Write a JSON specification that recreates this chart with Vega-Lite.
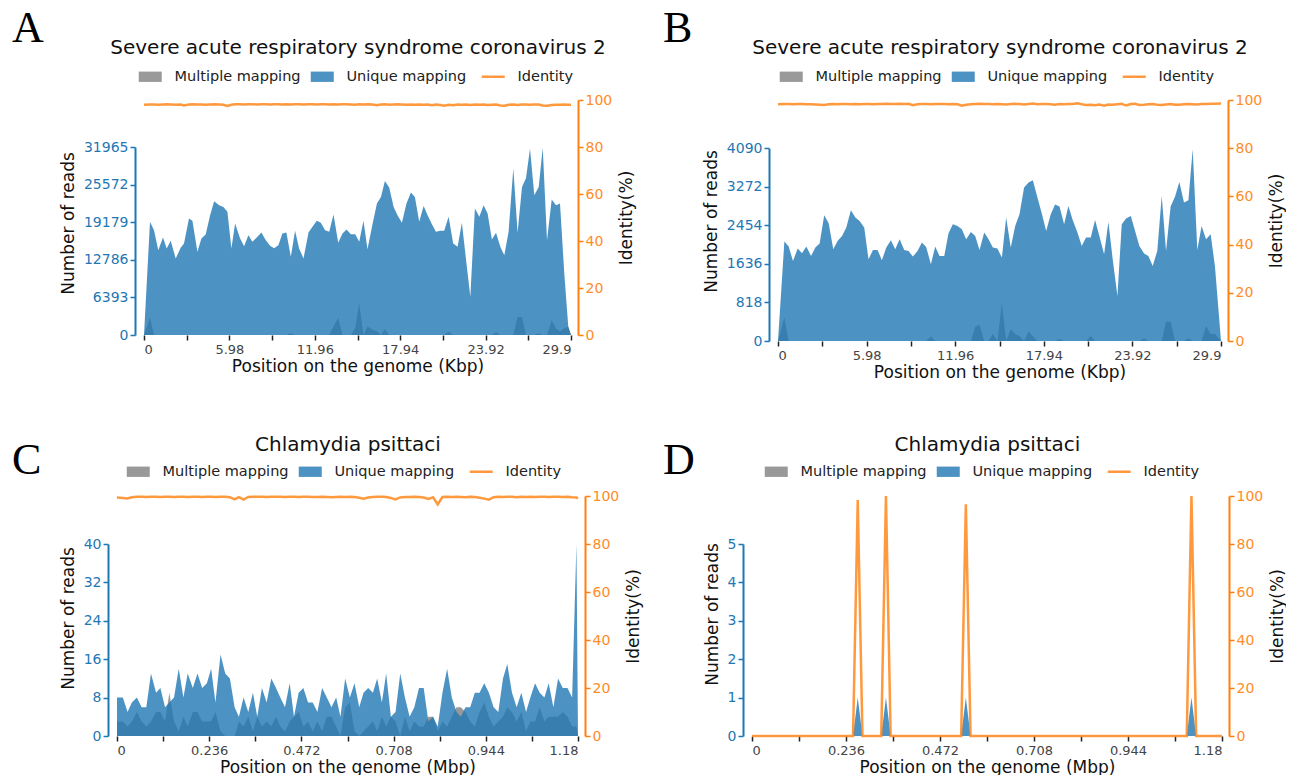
{
"$schema": "https://vega.github.io/schema/vega-lite/v6.json",
"padding": {"left": 12, "top": 7, "right": 0, "bottom": 0},
"config": {"view": {"stroke": null}, "font": "DejaVu Sans",
  "title": {"font": "Liberation Serif", "fontSize": 44, "fontWeight": "normal", "color": "#000", "anchor": "start", "frame": "group", "baseline": "alphabetic", "offset": 0},
  "axis": {"grid": false, "labelFont": "DejaVu Sans", "titleFont": "DejaVu Sans", "titleFontWeight": "normal", "titleColor": "#111"},
  "axisBottom": {"domain": false, "labelFontSize": 13, "labelColor": "#444", "tickColor": "#222", "tickSize": 5, "tickWidth": 1.5, "titleFontSize": 17, "titlePadding": 2, "labelPadding": 3},
  "axisTop": {"labels": false, "ticks": false, "domain": false, "titleFontSize": 20, "titleY": -45, "titleBaseline": "alphabetic"},
  "axisLeft": {"offset": 9, "domainColor": "#1f77b4", "domainWidth": 2, "tickColor": "#1f77b4", "tickWidth": 1.5, "tickSize": 5, "labelColor": "#1f77b4", "labelFontSize": 14, "titleFontSize": 17, "titlePadding": 6, "format": "d"},
  "axisRight": {"offset": 7, "domainColor": "#ff7f0e", "domainWidth": 2, "tickColor": "#ff7f0e", "tickWidth": 1.5, "tickSize": 5, "labelColor": "#ff8c26", "labelFontSize": 14, "titleFontSize": 17, "titleAngle": 270, "titlePadding": 24},
  "legend": {"orient": "none", "direction": "horizontal", "gridAlign": "none", "labelFontSize": 14.5, "labelColor": "#222", "symbolSize": 529, "labelOffset": 17, "columnPadding": 9, "symbolOpacity": 0.8}
},
"datasets": {
"pA": [
{"position":0,"unique":0,"multiple":0,"identity":98.0},
{"position":0.42,"unique":19237,"multiple":3000,"identity":98.1},
{"position":0.70,"unique":17823,"multiple":0,"identity":98.1},
{"position":1.00,"unique":14428,"multiple":0,"identity":98.0},
{"position":1.33,"unique":16578,"multiple":0,"identity":98.1},
{"position":1.59,"unique":14711,"multiple":0,"identity":98.2},
{"position":1.87,"unique":16012,"multiple":0,"identity":98.1},
{"position":2.22,"unique":13013,"multiple":0,"identity":98.0},
{"position":2.57,"unique":14824,"multiple":0,"identity":98.1},
{"position":2.80,"unique":15560,"multiple":0,"identity":97.7},
{"position":3.15,"unique":19803,"multiple":0,"identity":98.1},
{"position":3.39,"unique":19407,"multiple":0,"identity":98.2},
{"position":3.74,"unique":14145,"multiple":0,"identity":98.1},
{"position":4.02,"unique":16408,"multiple":0,"identity":98.1},
{"position":4.32,"unique":17087,"multiple":0,"identity":98.0},
{"position":4.63,"unique":20369,"multiple":0,"identity":98.1},
{"position":4.91,"unique":22745,"multiple":0,"identity":98.2},
{"position":5.26,"unique":22066,"multiple":0,"identity":98.1},
{"position":5.56,"unique":21783,"multiple":0,"identity":98.0},
{"position":5.84,"unique":20935,"multiple":0,"identity":97.5},
{"position":6.12,"unique":14711,"multiple":0,"identity":98.0},
{"position":6.38,"unique":18954,"multiple":0,"identity":98.2},
{"position":6.73,"unique":16408,"multiple":0,"identity":98.2},
{"position":7.01,"unique":15107,"multiple":0,"identity":98.1},
{"position":7.31,"unique":16974,"multiple":0,"identity":98.2},
{"position":7.59,"unique":15842,"multiple":0,"identity":98.2},
{"position":7.94,"unique":16691,"multiple":0,"identity":98.1},
{"position":8.22,"unique":17427,"multiple":0,"identity":98.2},
{"position":8.53,"unique":16125,"multiple":0,"identity":98.2},
{"position":8.83,"unique":15163,"multiple":0,"identity":98.1},
{"position":9.11,"unique":14767,"multiple":0,"identity":98.2},
{"position":9.41,"unique":15277,"multiple":0,"identity":98.2},
{"position":9.69,"unique":17257,"multiple":0,"identity":98.1},
{"position":9.97,"unique":17427,"multiple":0,"identity":98.2},
{"position":10.28,"unique":13296,"multiple":300,"identity":98.1},
{"position":10.58,"unique":17710,"multiple":0,"identity":98.2},
{"position":10.86,"unique":14711,"multiple":0,"identity":98.2},
{"position":11.17,"unique":13013,"multiple":0,"identity":98.1},
{"position":11.52,"unique":17427,"multiple":0,"identity":98.2},
{"position":11.80,"unique":18389,"multiple":0,"identity":98.2},
{"position":12.10,"unique":19407,"multiple":0,"identity":98.1},
{"position":12.38,"unique":19067,"multiple":0,"identity":98.2},
{"position":12.68,"unique":17823,"multiple":0,"identity":98.2},
{"position":12.97,"unique":17540,"multiple":0,"identity":98.1},
{"position":13.27,"unique":20482,"multiple":1500,"identity":98.2},
{"position":13.60,"unique":15673,"multiple":2900,"identity":98.1},
{"position":13.90,"unique":17257,"multiple":0,"identity":98.2},
{"position":14.18,"unique":17936,"multiple":0,"identity":98.2},
{"position":14.48,"unique":17144,"multiple":0,"identity":98.1},
{"position":14.79,"unique":17144,"multiple":1200,"identity":98.0},
{"position":15.07,"unique":15842,"multiple":5400,"identity":98.2},
{"position":15.37,"unique":19407,"multiple":0,"identity":98.1},
{"position":15.65,"unique":14598,"multiple":1500,"identity":98.2},
{"position":16.00,"unique":18841,"multiple":900,"identity":98.1},
{"position":16.31,"unique":22349,"multiple":700,"identity":97.8},
{"position":16.59,"unique":23481,"multiple":0,"identity":98.1},
{"position":16.87,"unique":26197,"multiple":1000,"identity":98.2},
{"position":17.17,"unique":25065,"multiple":0,"identity":98.0},
{"position":17.48,"unique":21783,"multiple":0,"identity":98.1},
{"position":17.75,"unique":20369,"multiple":0,"identity":98.2},
{"position":18.06,"unique":19067,"multiple":0,"identity":98.1},
{"position":18.38,"unique":22349,"multiple":0,"identity":98.0},
{"position":18.69,"unique":24216,"multiple":0,"identity":98.1},
{"position":18.97,"unique":23481,"multiple":0,"identity":98.0},
{"position":19.27,"unique":19237,"multiple":0,"identity":98.1},
{"position":19.58,"unique":21953,"multiple":0,"identity":98.0},
{"position":19.86,"unique":20369,"multiple":0,"identity":98.1},
{"position":20.16,"unique":18841,"multiple":0,"identity":97.8},
{"position":20.44,"unique":17540,"multiple":0,"identity":98.1},
{"position":20.75,"unique":17710,"multiple":0,"identity":97.9},
{"position":21.02,"unique":17710,"multiple":0,"identity":97.6},
{"position":21.33,"unique":20086,"multiple":600,"identity":98.0},
{"position":21.65,"unique":15560,"multiple":0,"identity":97.8},
{"position":21.96,"unique":14994,"multiple":0,"identity":98.1},
{"position":22.26,"unique":19067,"multiple":0,"identity":98.0},
{"position":22.54,"unique":13013,"multiple":0,"identity":98.1},
{"position":22.85,"unique":6507,"multiple":0,"identity":97.9},
{"position":23.17,"unique":21500,"multiple":0,"identity":98.1},
{"position":23.48,"unique":20086,"multiple":0,"identity":98.0},
{"position":23.78,"unique":22066,"multiple":0,"identity":98.1},
{"position":24.06,"unique":20652,"multiple":0,"identity":97.9},
{"position":24.36,"unique":16238,"multiple":0,"identity":98.0},
{"position":24.65,"unique":17370,"multiple":500,"identity":98.1},
{"position":24.95,"unique":14994,"multiple":0,"identity":97.7},
{"position":25.23,"unique":13579,"multiple":0,"identity":97.6},
{"position":25.53,"unique":17540,"multiple":0,"identity":98.0},
{"position":25.86,"unique":28290,"multiple":0,"identity":98.1},
{"position":26.16,"unique":17370,"multiple":3100,"identity":97.9},
{"position":26.47,"unique":25178,"multiple":3000,"identity":98.1},
{"position":26.75,"unique":26706,"multiple":0,"identity":98.1},
{"position":27.03,"unique":31685,"multiple":0,"identity":98.0},
{"position":27.33,"unique":23764,"multiple":0,"identity":98.1},
{"position":27.64,"unique":25178,"multiple":300,"identity":98.1},
{"position":27.92,"unique":31855,"multiple":0,"identity":97.7},
{"position":28.22,"unique":16125,"multiple":0,"identity":97.6},
{"position":28.55,"unique":23028,"multiple":2500,"identity":97.9},
{"position":28.85,"unique":22066,"multiple":1100,"identity":98.0},
{"position":29.13,"unique":22349,"multiple":600,"identity":98.0},
{"position":29.43,"unique":10467,"multiple":1200,"identity":98.1},
{"position":29.71,"unique":1415,"multiple":1400,"identity":98.0},
{"position":29.90,"unique":0,"multiple":0,"identity":98.0}
],
"pB": [
{"position":0,"unique":0,"multiple":0,"identity":98.2},
{"position":0.43,"unique":2109,"multiple":500,"identity":98.3},
{"position":0.72,"unique":2003,"multiple":0,"identity":98.3},
{"position":1.01,"unique":1698,"multiple":0,"identity":98.2},
{"position":1.33,"unique":1960,"multiple":0,"identity":98.3},
{"position":1.62,"unique":1861,"multiple":0,"identity":98.3},
{"position":1.91,"unique":2003,"multiple":0,"identity":98.2},
{"position":2.23,"unique":1804,"multiple":0,"identity":98.2},
{"position":2.52,"unique":1981,"multiple":0,"identity":98.1},
{"position":2.81,"unique":2066,"multiple":0,"identity":98.0},
{"position":3.12,"unique":2668,"multiple":0,"identity":97.9},
{"position":3.42,"unique":2498,"multiple":0,"identity":98.2},
{"position":3.73,"unique":1946,"multiple":0,"identity":98.3},
{"position":4.02,"unique":2123,"multiple":0,"identity":98.2},
{"position":4.32,"unique":2229,"multiple":0,"identity":98.3},
{"position":4.61,"unique":2406,"multiple":0,"identity":98.3},
{"position":4.92,"unique":2774,"multiple":0,"identity":98.2},
{"position":5.22,"unique":2618,"multiple":0,"identity":98.3},
{"position":5.51,"unique":2547,"multiple":0,"identity":98.2},
{"position":5.82,"unique":2406,"multiple":0,"identity":98.3},
{"position":6.11,"unique":1734,"multiple":0,"identity":98.3},
{"position":6.41,"unique":1932,"multiple":0,"identity":98.2},
{"position":6.72,"unique":1932,"multiple":0,"identity":98.3},
{"position":7.01,"unique":1712,"multiple":0,"identity":98.3},
{"position":7.31,"unique":1981,"multiple":0,"identity":98.4},
{"position":7.62,"unique":2137,"multiple":0,"identity":98.3},
{"position":7.91,"unique":1946,"multiple":0,"identity":98.3},
{"position":8.21,"unique":2158,"multiple":0,"identity":98.4},
{"position":8.52,"unique":1932,"multiple":0,"identity":98.3},
{"position":8.81,"unique":1911,"multiple":0,"identity":98.4},
{"position":9.10,"unique":1790,"multiple":0,"identity":97.8},
{"position":9.42,"unique":1911,"multiple":0,"identity":98.2},
{"position":9.71,"unique":2087,"multiple":0,"identity":98.3},
{"position":10.00,"unique":1995,"multiple":0,"identity":98.3},
{"position":10.32,"unique":1627,"multiple":100,"identity":98.2},
{"position":10.61,"unique":2003,"multiple":0,"identity":98.3},
{"position":10.90,"unique":1804,"multiple":0,"identity":98.3},
{"position":11.22,"unique":1804,"multiple":0,"identity":98.3},
{"position":11.51,"unique":2286,"multiple":0,"identity":98.2},
{"position":11.80,"unique":2477,"multiple":0,"identity":98.3},
{"position":12.12,"unique":2441,"multiple":0,"identity":98.2},
{"position":12.41,"unique":2370,"multiple":0,"identity":97.6},
{"position":12.70,"unique":2158,"multiple":0,"identity":98.0},
{"position":13.02,"unique":2314,"multiple":0,"identity":98.2},
{"position":13.31,"unique":2229,"multiple":300,"identity":98.3},
{"position":13.60,"unique":1932,"multiple":350,"identity":98.4},
{"position":13.92,"unique":2300,"multiple":0,"identity":98.3},
{"position":14.21,"unique":2158,"multiple":0,"identity":98.3},
{"position":14.50,"unique":1981,"multiple":150,"identity":98.2},
{"position":14.81,"unique":1960,"multiple":0,"identity":98.3},
{"position":15.11,"unique":1769,"multiple":800,"identity":98.2},
{"position":15.40,"unique":2618,"multiple":0,"identity":98.1},
{"position":15.71,"unique":1981,"multiple":250,"identity":98.3},
{"position":16.01,"unique":2441,"multiple":150,"identity":98.4},
{"position":16.30,"unique":2689,"multiple":100,"identity":98.3},
{"position":16.61,"unique":3255,"multiple":0,"identity":98.1},
{"position":16.91,"unique":3361,"multiple":200,"identity":98.3},
{"position":17.20,"unique":3411,"multiple":100,"identity":98.5},
{"position":17.51,"unique":3043,"multiple":0,"identity":98.2},
{"position":17.80,"unique":2710,"multiple":0,"identity":98.3},
{"position":18.10,"unique":2335,"multiple":0,"identity":98.3},
{"position":18.41,"unique":2689,"multiple":0,"identity":98.2},
{"position":18.70,"unique":2894,"multiple":0,"identity":98.0},
{"position":19.00,"unique":2852,"multiple":40,"identity":98.3},
{"position":19.31,"unique":2477,"multiple":0,"identity":98.2},
{"position":19.60,"unique":2866,"multiple":0,"identity":98.3},
{"position":19.89,"unique":2569,"multiple":0,"identity":98.3},
{"position":20.21,"unique":2300,"multiple":0,"identity":98.6},
{"position":20.50,"unique":2017,"multiple":0,"identity":98.2},
{"position":20.79,"unique":2194,"multiple":0,"identity":97.9},
{"position":21.11,"unique":2194,"multiple":110,"identity":98.0},
{"position":21.40,"unique":2569,"multiple":0,"identity":97.8},
{"position":21.69,"unique":2229,"multiple":0,"identity":98.1},
{"position":22.01,"unique":1840,"multiple":0,"identity":97.6},
{"position":22.30,"unique":2526,"multiple":0,"identity":98.1},
{"position":22.59,"unique":1734,"multiple":0,"identity":98.0},
{"position":22.91,"unique":955,"multiple":0,"identity":98.2},
{"position":23.20,"unique":2477,"multiple":0,"identity":98.4},
{"position":23.49,"unique":2597,"multiple":0,"identity":97.7},
{"position":23.81,"unique":2654,"multiple":0,"identity":98.3},
{"position":24.10,"unique":2335,"multiple":0,"identity":98.4},
{"position":24.39,"unique":2017,"multiple":0,"identity":97.9},
{"position":24.71,"unique":1854,"multiple":60,"identity":98.0},
{"position":25.00,"unique":1804,"multiple":0,"identity":98.2},
{"position":25.29,"unique":1592,"multiple":0,"identity":98.3},
{"position":25.60,"unique":1911,"multiple":0,"identity":98.0},
{"position":25.90,"unique":3078,"multiple":0,"identity":97.9},
{"position":26.19,"unique":1911,"multiple":410,"identity":98.1},
{"position":26.50,"unique":2852,"multiple":410,"identity":98.3},
{"position":26.80,"unique":3064,"multiple":0,"identity":98.0},
{"position":27.09,"unique":3375,"multiple":0,"identity":98.0},
{"position":27.40,"unique":2937,"multiple":0,"identity":98.2},
{"position":27.70,"unique":2986,"multiple":60,"identity":98.3},
{"position":27.99,"unique":4069,"multiple":0,"identity":98.2},
{"position":28.30,"unique":1932,"multiple":0,"identity":98.1},
{"position":28.59,"unique":2441,"multiple":0,"identity":98.3},
{"position":28.89,"unique":2158,"multiple":320,"identity":98.3},
{"position":29.20,"unique":2264,"multiple":150,"identity":98.4},
{"position":29.49,"unique":1592,"multiple":150,"identity":98.4},
{"position":29.90,"unique":0,"multiple":0,"identity":98.5}
],
"pC": [
{"position":0.000,"unique":8,"multiple":3,"identity":99.4},
{"position":0.015,"unique":8,"multiple":3,"identity":99.2},
{"position":0.027,"unique":5,"multiple":2,"identity":99.0},
{"position":0.038,"unique":7,"multiple":3,"identity":99.5},
{"position":0.051,"unique":8,"multiple":5,"identity":99.7},
{"position":0.063,"unique":6,"multiple":3,"identity":99.7},
{"position":0.075,"unique":6,"multiple":2,"identity":99.6},
{"position":0.087,"unique":13,"multiple":3,"identity":99.7},
{"position":0.100,"unique":9,"multiple":5,"identity":99.7},
{"position":0.111,"unique":10,"multiple":5,"identity":99.6},
{"position":0.123,"unique":6,"multiple":3,"identity":99.7},
{"position":0.134,"unique":7,"multiple":9,"identity":99.7},
{"position":0.146,"unique":8,"multiple":3,"identity":99.6},
{"position":0.158,"unique":14,"multiple":1,"identity":99.7},
{"position":0.170,"unique":8,"multiple":4,"identity":99.7},
{"position":0.181,"unique":13,"multiple":2,"identity":99.6},
{"position":0.194,"unique":10,"multiple":5,"identity":99.7},
{"position":0.206,"unique":13,"multiple":5,"identity":99.7},
{"position":0.218,"unique":10,"multiple":3,"identity":99.6},
{"position":0.230,"unique":11,"multiple":3,"identity":99.7},
{"position":0.241,"unique":14,"multiple":3,"identity":99.7},
{"position":0.252,"unique":7,"multiple":5,"identity":99.6},
{"position":0.265,"unique":17,"multiple":1,"identity":99.7},
{"position":0.277,"unique":13,"multiple":0,"identity":99.7},
{"position":0.289,"unique":12,"multiple":0,"identity":99.5},
{"position":0.301,"unique":6,"multiple":0,"identity":98.6},
{"position":0.312,"unique":4,"multiple":3,"identity":99.5},
{"position":0.324,"unique":8,"multiple":2,"identity":98.5},
{"position":0.336,"unique":5,"multiple":4,"identity":99.6},
{"position":0.348,"unique":9,"multiple":1,"identity":99.7},
{"position":0.359,"unique":4,"multiple":4,"identity":99.7},
{"position":0.371,"unique":10,"multiple":2,"identity":99.7},
{"position":0.383,"unique":7,"multiple":3,"identity":99.6},
{"position":0.395,"unique":12,"multiple":2,"identity":99.7},
{"position":0.407,"unique":10,"multiple":4,"identity":99.7},
{"position":0.418,"unique":8,"multiple":2,"identity":99.7},
{"position":0.430,"unique":6,"multiple":1,"identity":99.6},
{"position":0.442,"unique":11,"multiple":3,"identity":99.7},
{"position":0.453,"unique":4,"multiple":4,"identity":99.7},
{"position":0.465,"unique":9,"multiple":5,"identity":99.6},
{"position":0.477,"unique":10,"multiple":2,"identity":99.7},
{"position":0.489,"unique":7,"multiple":3,"identity":99.7},
{"position":0.501,"unique":7,"multiple":1,"identity":99.6},
{"position":0.513,"unique":5,"multiple":3,"identity":99.6},
{"position":0.525,"unique":10,"multiple":1,"identity":99.7},
{"position":0.537,"unique":8,"multiple":4,"identity":99.6},
{"position":0.549,"unique":6,"multiple":4,"identity":99.5},
{"position":0.561,"unique":8,"multiple":2,"identity":99.6},
{"position":0.572,"unique":4,"multiple":0,"identity":99.7},
{"position":0.584,"unique":12,"multiple":6,"identity":99.6},
{"position":0.596,"unique":8,"multiple":7,"identity":99.7},
{"position":0.608,"unique":11,"multiple":1,"identity":99.6},
{"position":0.620,"unique":6,"multiple":0,"identity":99.3},
{"position":0.631,"unique":9,"multiple":1,"identity":98.9},
{"position":0.643,"unique":10,"multiple":2,"identity":99.4},
{"position":0.655,"unique":9,"multiple":3,"identity":99.6},
{"position":0.666,"unique":12,"multiple":1,"identity":99.7},
{"position":0.678,"unique":7,"multiple":4,"identity":99.7},
{"position":0.689,"unique":13,"multiple":2,"identity":99.6},
{"position":0.701,"unique":4,"multiple":4,"identity":99.2},
{"position":0.713,"unique":5,"multiple":3,"identity":98.6},
{"position":0.725,"unique":13,"multiple":0,"identity":99.4},
{"position":0.737,"unique":8,"multiple":4,"identity":99.6},
{"position":0.749,"unique":4,"multiple":1,"identity":99.6},
{"position":0.761,"unique":6,"multiple":3,"identity":99.7},
{"position":0.773,"unique":10,"multiple":2,"identity":99.6},
{"position":0.785,"unique":10,"multiple":2,"identity":99.4},
{"position":0.797,"unique":3,"multiple":4,"identity":98.8},
{"position":0.809,"unique":4,"multiple":4,"identity":99.5},
{"position":0.821,"unique":2,"multiple":1,"identity":96.5},
{"position":0.833,"unique":9,"multiple":3,"identity":99.6},
{"position":0.845,"unique":14,"multiple":2,"identity":99.7},
{"position":0.857,"unique":8,"multiple":4,"identity":99.6},
{"position":0.869,"unique":5,"multiple":6,"identity":99.7},
{"position":0.880,"unique":4,"multiple":6,"identity":99.6},
{"position":0.892,"unique":6,"multiple":5,"identity":99.5},
{"position":0.904,"unique":6,"multiple":3,"identity":99.7},
{"position":0.916,"unique":9,"multiple":2,"identity":99.6},
{"position":0.928,"unique":9,"multiple":5,"identity":99.3},
{"position":0.940,"unique":11,"multiple":7,"identity":98.9},
{"position":0.952,"unique":9,"multiple":4,"identity":98.5},
{"position":0.964,"unique":6,"multiple":2,"identity":99.5},
{"position":0.976,"unique":5,"multiple":3,"identity":99.7},
{"position":0.988,"unique":12,"multiple":4,"identity":99.6},
{"position":0.999,"unique":15,"multiple":6,"identity":99.7},
{"position":1.011,"unique":9,"multiple":5,"identity":99.7},
{"position":1.023,"unique":6,"multiple":3,"identity":99.5},
{"position":1.035,"unique":9,"multiple":5,"identity":99.7},
{"position":1.047,"unique":5,"multiple":1,"identity":99.6},
{"position":1.058,"unique":8,"multiple":3,"identity":99.7},
{"position":1.070,"unique":11,"multiple":3,"identity":99.6},
{"position":1.082,"unique":9,"multiple":6,"identity":99.7},
{"position":1.094,"unique":8,"multiple":3,"identity":99.7},
{"position":1.105,"unique":11,"multiple":4,"identity":99.6},
{"position":1.117,"unique":6,"multiple":4,"identity":99.7},
{"position":1.129,"unique":12,"multiple":4,"identity":99.7},
{"position":1.141,"unique":10,"multiple":5,"identity":99.6},
{"position":1.153,"unique":10,"multiple":4,"identity":99.7},
{"position":1.165,"unique":8,"multiple":2,"identity":99.5},
{"position":1.176,"unique":40,"multiple":2,"identity":99.4},
{"position":1.180,"unique":0,"multiple":0,"identity":99.0}
],
"pD": [
{"position":0,"unique":0,"multiple":0,"identity":0},
{"position":0.2537,"unique":0,"multiple":0,"identity":0},
{"position":0.2655,"unique":1,"multiple":0,"identity":98.3},
{"position":0.2773,"unique":0,"multiple":0,"identity":0},
{"position":0.3245,"unique":0,"multiple":0,"identity":0},
{"position":0.3363,"unique":1,"multiple":0,"identity":100},
{"position":0.3481,"unique":0,"multiple":0,"identity":0},
{"position":0.5251,"unique":0,"multiple":0,"identity":0},
{"position":0.5369,"unique":1,"multiple":0,"identity":96.5},
{"position":0.5487,"unique":0,"multiple":0,"identity":0},
{"position":1.0915,"unique":0,"multiple":0,"identity":0},
{"position":1.1033,"unique":1,"multiple":0,"identity":100},
{"position":1.1151,"unique":0,"multiple":0,"identity":0},
{"position":1.18,"unique":0,"multiple":0,"identity":0}
]
},
"resolve": {"scale": {"color": "independent"}, "legend": {"color": "independent"}},
"columns": 2,
"align": {"row": "all", "column": "none"},
"spacing": {"row": 54, "column": 21},
"concat": [
  {"width": 454, "height": 235, "data": {"name": "pA"},
   "title": {"text": "A", "dx": -105, "dy": 18},
   "resolve": {"scale": {"y": "independent"}},
   "layer": [
    {"layer": [
      {"mark": {"type": "area", "opacity": 0.8},
       "encoding": {
         "x": {"field": "position", "type": "quantitative", "scale": {"domain": [0, 29.9], "range": [27, 454], "nice": false, "zero": false}, "axis": {"orient": "bottom", "values": [0, 2.99, 5.98, 8.97, 11.96, 14.95, 17.94, 20.93, 23.92, 26.91, 29.9], "labelExpr": "round(datum.value/2.99) % 2 === 0 ? format(datum.value, '~g') : ''", "title": "Position on the genome (Kbp)"}},
         "y": {"field": "multiple", "type": "quantitative", "scale": {"domain": [0, 31965], "range": [235, 47], "nice": false}, "axis": {"orient": "left", "offset": -18, "values": [0, 6393, 12786, 19179, 25572, 31965], "title": "Number of reads", "titleY": 123}},
         "color": {"datum": "Multiple mapping", "type": "nominal", "scale": {"domain": ["Multiple mapping", "Unique mapping", "Identity"], "range": ["#808080", "#1f77b4", "#ff7f0e"]},
           "legend": {"legendX": 26, "legendY": -30.5, "title": null, "symbolType": {"expr": "datum.value === 'Identity' ? 'M-1,0L1,0' : 'M-1,-0.45L1,-0.45L1,0.45L-1,0.45Z'"}, "symbolStrokeWidth": {"expr": "datum.value === 'Identity' ? 2.5 : 0"}}}}},
      {"mark": {"type": "area", "opacity": 0.8},
       "encoding": {
         "x": {"field": "position", "type": "quantitative", "axis": {"orient": "bottom", "values": [0, 2.99, 5.98, 8.97, 11.96, 14.95, 17.94, 20.93, 23.92, 26.91, 29.9], "labelExpr": "round(datum.value/2.99) % 2 === 0 ? format(datum.value, '~g') : ''", "title": "Position on the genome (Kbp)"}},
         "y": {"field": "unique", "type": "quantitative"},
         "color": {"datum": "Unique mapping", "type": "nominal"}}}
    ]},
    {"mark": {"type": "line", "strokeWidth": 2.5, "opacity": 0.8},
     "encoding": {
       "x": {"field": "position", "type": "quantitative", "axis": {"orient": "top", "title": "Severe acute respiratory syndrome coronavirus 2", "titleY": -47}},
       "y": {"field": "identity", "type": "quantitative", "scale": {"domain": [0, 100], "nice": false}, "axis": {"orient": "right", "values": [0, 20, 40, 60, 80, 100], "format": "d", "title": "Identity(%)"}},
       "color": {"datum": "Identity", "type": "nominal"}}}
   ]},
  {"width": 443, "height": 241, "data": {"name": "pB"},
   "title": {"text": "B", "dx": -115, "dy": 18},
   "resolve": {"scale": {"y": "independent"}},
   "layer": [
    {"layer": [
      {"mark": {"type": "area", "opacity": 0.8},
       "encoding": {
         "x": {"field": "position", "type": "quantitative", "scale": {"domain": [0, 29.9], "nice": false, "zero": false}, "axis": {"orient": "bottom", "values": [0, 2.99, 5.98, 8.97, 11.96, 14.95, 17.94, 20.93, 23.92, 26.91, 29.9], "labelExpr": "round(datum.value/2.99) % 2 === 0 ? format(datum.value, '~g') : ''", "title": "Position on the genome (Kbp)"}},
         "y": {"field": "multiple", "type": "quantitative", "scale": {"domain": [0, 4090], "range": [241, 48.2], "nice": false}, "axis": {"orient": "left", "values": [0, 818, 1636, 2454, 3272, 4090], "title": "Number of reads", "titleY": 121}},
         "color": {"datum": "Multiple mapping", "type": "nominal", "scale": {"domain": ["Multiple mapping", "Unique mapping", "Identity"], "range": ["#808080", "#1f77b4", "#ff7f0e"]},
           "legend": {"legendX": 6, "legendY": -30.5, "title": null, "symbolType": {"expr": "datum.value === 'Identity' ? 'M-1,0L1,0' : 'M-1,-0.45L1,-0.45L1,0.45L-1,0.45Z'"}, "symbolStrokeWidth": {"expr": "datum.value === 'Identity' ? 2.5 : 0"}}}}},
      {"mark": {"type": "area", "opacity": 0.8},
       "encoding": {
         "x": {"field": "position", "type": "quantitative", "axis": {"orient": "bottom", "values": [0, 2.99, 5.98, 8.97, 11.96, 14.95, 17.94, 20.93, 23.92, 26.91, 29.9], "labelExpr": "round(datum.value/2.99) % 2 === 0 ? format(datum.value, '~g') : ''", "title": "Position on the genome (Kbp)"}},
         "y": {"field": "unique", "type": "quantitative"},
         "color": {"datum": "Unique mapping", "type": "nominal"}}}
    ]},
    {"mark": {"type": "line", "strokeWidth": 2.5, "opacity": 0.8},
     "encoding": {
       "x": {"field": "position", "type": "quantitative", "axis": {"orient": "top", "title": "Severe acute respiratory syndrome coronavirus 2", "titleY": -47}},
       "y": {"field": "identity", "type": "quantitative", "scale": {"domain": [0, 100], "nice": false}, "axis": {"orient": "right", "values": [0, 20, 40, 60, 80, 100], "format": "d", "title": "Identity(%)"}},
       "color": {"datum": "Identity", "type": "nominal"}}}
   ]},
  {"width": 461, "height": 240, "data": {"name": "pC"},
   "title": {"text": "C", "dx": -105, "dy": 53},
   "resolve": {"scale": {"y": "independent"}},
   "layer": [
    {"layer": [
      {"mark": {"type": "area", "opacity": 0.8},
       "encoding": {
         "x": {"field": "position", "type": "quantitative", "scale": {"domain": [0, 1.18], "nice": false, "zero": false}, "axis": {"orient": "bottom", "values": [0, 0.118, 0.236, 0.354, 0.472, 0.59, 0.708, 0.826, 0.944, 1.062, 1.18], "labelExpr": "round(datum.value/0.118) % 2 === 0 ? format(datum.value, '~g') : ''", "title": "Position on the genome (Mbp)"}},
         "y": {"field": "multiple", "type": "quantitative", "scale": {"domain": [0, 40], "range": [240, 48], "nice": false}, "axis": {"orient": "left", "values": [0, 8, 16, 24, 32, 40], "title": "Number of reads", "titleY": 122}},
         "color": {"datum": "Multiple mapping", "type": "nominal", "scale": {"domain": ["Multiple mapping", "Unique mapping", "Identity"], "range": ["#808080", "#1f77b4", "#ff7f0e"]},
           "legend": {"legendX": 14, "legendY": -31.5, "title": null, "symbolType": {"expr": "datum.value === 'Identity' ? 'M-1,0L1,0' : 'M-1,-0.45L1,-0.45L1,0.45L-1,0.45Z'"}, "symbolStrokeWidth": {"expr": "datum.value === 'Identity' ? 2.5 : 0"}}}}},
      {"mark": {"type": "area", "opacity": 0.8},
       "encoding": {
         "x": {"field": "position", "type": "quantitative", "axis": {"orient": "bottom", "values": [0, 0.118, 0.236, 0.354, 0.472, 0.59, 0.708, 0.826, 0.944, 1.062, 1.18], "labelExpr": "round(datum.value/0.118) % 2 === 0 ? format(datum.value, '~g') : ''", "title": "Position on the genome (Mbp)"}},
         "y": {"field": "unique", "type": "quantitative"},
         "color": {"datum": "Unique mapping", "type": "nominal"}}}
    ]},
    {"mark": {"type": "line", "strokeWidth": 2.5, "opacity": 0.8},
     "encoding": {
       "x": {"field": "position", "type": "quantitative", "axis": {"orient": "top", "title": "Chlamydia psittaci", "titleY": -46}},
       "y": {"field": "identity", "type": "quantitative", "scale": {"domain": [0, 100], "nice": false}, "axis": {"orient": "right", "values": [0, 20, 40, 60, 80, 100], "format": "d", "title": "Identity(%)"}},
       "color": {"datum": "Identity", "type": "nominal"}}}
   ]},
  {"width": 470, "height": 240, "data": {"name": "pD"},
   "title": {"text": "D", "dx": -89, "dy": 53},
   "resolve": {"scale": {"y": "independent"}},
   "layer": [
    {"layer": [
      {"mark": {"type": "area", "opacity": 0.8},
       "encoding": {
         "x": {"field": "position", "type": "quantitative", "scale": {"domain": [0, 1.18], "nice": false, "zero": false}, "axis": {"orient": "bottom", "values": [0, 0.118, 0.236, 0.354, 0.472, 0.59, 0.708, 0.826, 0.944, 1.062, 1.18], "labelExpr": "round(datum.value/0.118) % 2 === 0 ? format(datum.value, '~g') : ''", "title": "Position on the genome (Mbp)"}},
         "y": {"field": "multiple", "type": "quantitative", "scale": {"domain": [0, 5], "range": [240, 48], "nice": false}, "axis": {"orient": "left", "values": [0, 1, 2, 3, 4, 5], "title": "Number of reads", "titleY": 118}},
         "color": {"datum": "Multiple mapping", "type": "nominal", "scale": {"domain": ["Multiple mapping", "Unique mapping", "Identity"], "range": ["#808080", "#1f77b4", "#ff7f0e"]},
           "legend": {"legendX": 17, "legendY": -31.5, "title": null, "symbolType": {"expr": "datum.value === 'Identity' ? 'M-1,0L1,0' : 'M-1,-0.45L1,-0.45L1,0.45L-1,0.45Z'"}, "symbolStrokeWidth": {"expr": "datum.value === 'Identity' ? 2.5 : 0"}}}}},
      {"mark": {"type": "area", "opacity": 0.8},
       "encoding": {
         "x": {"field": "position", "type": "quantitative", "axis": {"orient": "bottom", "values": [0, 0.118, 0.236, 0.354, 0.472, 0.59, 0.708, 0.826, 0.944, 1.062, 1.18], "labelExpr": "round(datum.value/0.118) % 2 === 0 ? format(datum.value, '~g') : ''", "title": "Position on the genome (Mbp)"}},
         "y": {"field": "unique", "type": "quantitative"},
         "color": {"datum": "Unique mapping", "type": "nominal"}}}
    ]},
    {"mark": {"type": "line", "strokeWidth": 2.5, "opacity": 0.8},
     "encoding": {
       "x": {"field": "position", "type": "quantitative", "axis": {"orient": "top", "title": "Chlamydia psittaci", "titleY": -46}},
       "y": {"field": "identity", "type": "quantitative", "scale": {"domain": [0, 100], "nice": false}, "axis": {"orient": "right", "values": [0, 20, 40, 60, 80, 100], "format": "d", "title": "Identity(%)"}},
       "color": {"datum": "Identity", "type": "nominal"}}}
   ]}
]
}
